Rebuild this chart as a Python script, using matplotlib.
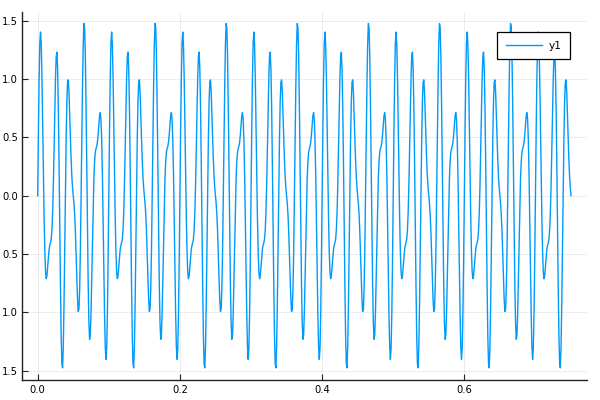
import numpy as np
import matplotlib
matplotlib.use("Agg")
import matplotlib.pyplot as plt

# One period (0.1 s, 100 samples at 1 ms) of the signal;
# the chart repeats this period 7.5 times from t = 0 to t = 0.75.
period_values = [
    0.000, 0.550, 1.010, 1.308, 1.403, 1.294, 1.014, 0.625, 0.203, -0.182,
    -0.476, -0.651, -0.712, -0.685, -0.609, -0.524, -0.460, -0.424, -0.404, -0.372,
    -0.294, -0.143, 0.089, 0.387, 0.710, 1.000, 1.192, 1.231, 1.087, 0.761,
    0.294, -0.246, -0.772, -1.194, -1.442, -1.476, -1.293, -0.933, -0.463, 0.033,
    0.476, 0.800, 0.973, 0.993, 0.888, 0.706, 0.499, 0.310, 0.166, 0.068,
    0.000, -0.068, -0.166, -0.310, -0.499, -0.706, -0.888, -0.993, -0.973, -0.800,
    -0.476, -0.033, 0.463, 0.933, 1.293, 1.476, 1.442, 1.194, 0.772, 0.246,
    -0.294, -0.761, -1.087, -1.231, -1.192, -1.000, -0.710, -0.387, -0.089, 0.143,
    0.294, 0.372, 0.404, 0.424, 0.460, 0.524, 0.609, 0.685, 0.712, 0.651,
    0.476, 0.182, -0.203, -0.625, -1.014, -1.294, -1.403, -1.308, -1.010, -0.550,
]
n_full_periods = 7
tail_samples = 51
series_label = "y1"

x_ticks = [0.0, 0.2, 0.4, 0.6]
x_tick_labels = ["0.0", "0.2", "0.4", "0.6"]
y_ticks = [-1.5, -1.0, -0.5, 0.0, 0.5, 1.0, 1.5]
y_tick_labels = ["1.5", "1.0", "0.5", "0.0", "0.5", "1.0", "1.5"]

y = np.concatenate([np.tile(period_values, n_full_periods), period_values[:tail_samples]])
t = np.linspace(0.0, 0.75, len(y))

plt.rcParams["font.family"] = ["DejaVu Sans"]
fig = plt.figure(figsize=(6, 4), dpi=100)
ax = fig.add_axes([21.7 / 600, 20 / 400, (587 - 21.7) / 600, (380 - 12.3) / 400])

ax.plot(t, y, color="#009AFA", lw=1.0, label=series_label)

ax.set_xlim(-0.0225, 0.7725)
ax.set_ylim(-1.58, 1.572)
ax.set_xticks(x_ticks)
ax.set_xticklabels(x_tick_labels)
ax.set_yticks(y_ticks)
ax.set_yticklabels(y_tick_labels)

ax.grid(True, color="black", alpha=0.1, lw=0.5)
for s in ["top", "right"]:
    ax.spines[s].set_visible(False)
for s in ["left", "bottom"]:
    ax.spines[s].set_color("#222222")
    ax.spines[s].set_linewidth(1.0)
ax.tick_params(axis="both", direction="in", length=4, width=0.8, color="#222222",
               labelsize=7.2, labelcolor="black")
ax.tick_params(axis="y", pad=2.5)
ax.tick_params(axis="x", pad=3.4)

leg = ax.legend(loc="upper right", bbox_to_anchor=(570 / 600, 1 - 32.3 / 400),
                bbox_transform=fig.transFigure, borderaxespad=0.0,
                fontsize=7.6, frameon=True, fancybox=False, borderpad=0.8,
                handlelength=3.45, handletextpad=0.6)
frame = leg.get_frame()
frame.set_edgecolor("black")
frame.set_linewidth(0.9)
frame.set_facecolor("white")
frame.set_alpha(1.0)

fig.savefig("out.png", dpi=100)
